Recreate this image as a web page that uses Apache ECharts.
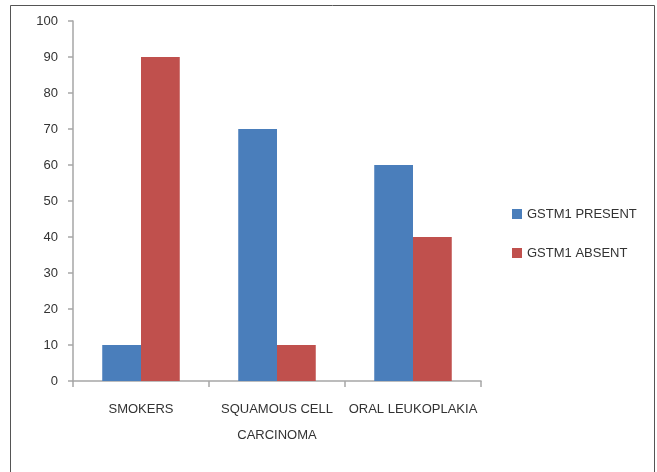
<!DOCTYPE html>
<html>
<head>
<meta charset="utf-8">
<style>
  html, body { margin: 0; padding: 0; background: #fff; }
  #chart { width: 657px; height: 472px; }
</style>
<script src="https://cdn.jsdelivr.net/npm/echarts@6/dist/echarts.min.js"></script>
</head>
<body>
<div id="chart"></div>
<script>
// Group labels on the x axis
var categories = ['SMOKERS', 'SQUAMOUS CELL\nCARCINOMA', 'ORAL LEUKOPLAKIA'];
// Percentages per group
var gstm1Present = [10, 70, 60];
var gstm1Absent = [90, 10, 40];
// Value axis range
var yMin = 0, yMax = 100, yStep = 10;

var FONT = '"Liberation Sans", Arial, sans-serif';
var TEXT = '#333333';
var AXIS = '#a6a6a6';

var chart = echarts.init(document.getElementById('chart'));
chart.setOption({
  animation: false,
  backgroundColor: '#ffffff',
  graphic: [{
    type: 'rect',
    shape: { x: 10.5, y: 5.5, width: 644, height: 480 },
    style: { fill: 'none', stroke: '#555555', lineWidth: 1 },
    silent: true
  }],
  grid: { left: 73, right: 176, top: 21, bottom: 91 },
  legend: {
    orient: 'vertical',
    left: 507,
    top: 201,
    itemWidth: 10,
    itemHeight: 10,
    itemGap: 23,
    itemStyle: { borderWidth: 0 },
    icon: 'rect',
    textStyle: { fontFamily: FONT, fontSize: 13, color: TEXT, lineHeight: 16 },
    data: ['GSTM1 PRESENT', 'GSTM1 ABSENT']
  },
  xAxis: {
    type: 'category',
    data: categories,
    axisLine: { lineStyle: { color: AXIS, width: 1.5 } },
    axisTick: { show: true, length: 6, lineStyle: { color: AXIS, width: 1.5 } },
    axisLabel: {
      fontFamily: FONT, fontSize: 13, color: TEXT,
      lineHeight: 26, margin: 15, interval: 0
    },
    splitLine: { show: false }
  },
  yAxis: {
    type: 'value',
    min: yMin, max: yMax, interval: yStep,
    axisLine: { show: true, lineStyle: { color: AXIS, width: 1.5 } },
    axisTick: { show: true, length: 5, lineStyle: { color: AXIS, width: 1.5 } },
    axisLabel: { fontFamily: FONT, fontSize: 13, color: TEXT, margin: 15 },
    splitLine: { show: false }
  },
  series: [
    {
      name: 'GSTM1 PRESENT',
      type: 'bar',
      data: gstm1Present,
      barGap: '0%',
      barCategoryGap: '43%',
      itemStyle: { color: '#4a7ebb' }
    },
    {
      name: 'GSTM1 ABSENT',
      type: 'bar',
      data: gstm1Absent,
      barGap: '0%',
      barCategoryGap: '43%',
      itemStyle: { color: '#c0504d' }
    }
  ]
});
</script>
</body>
</html>
